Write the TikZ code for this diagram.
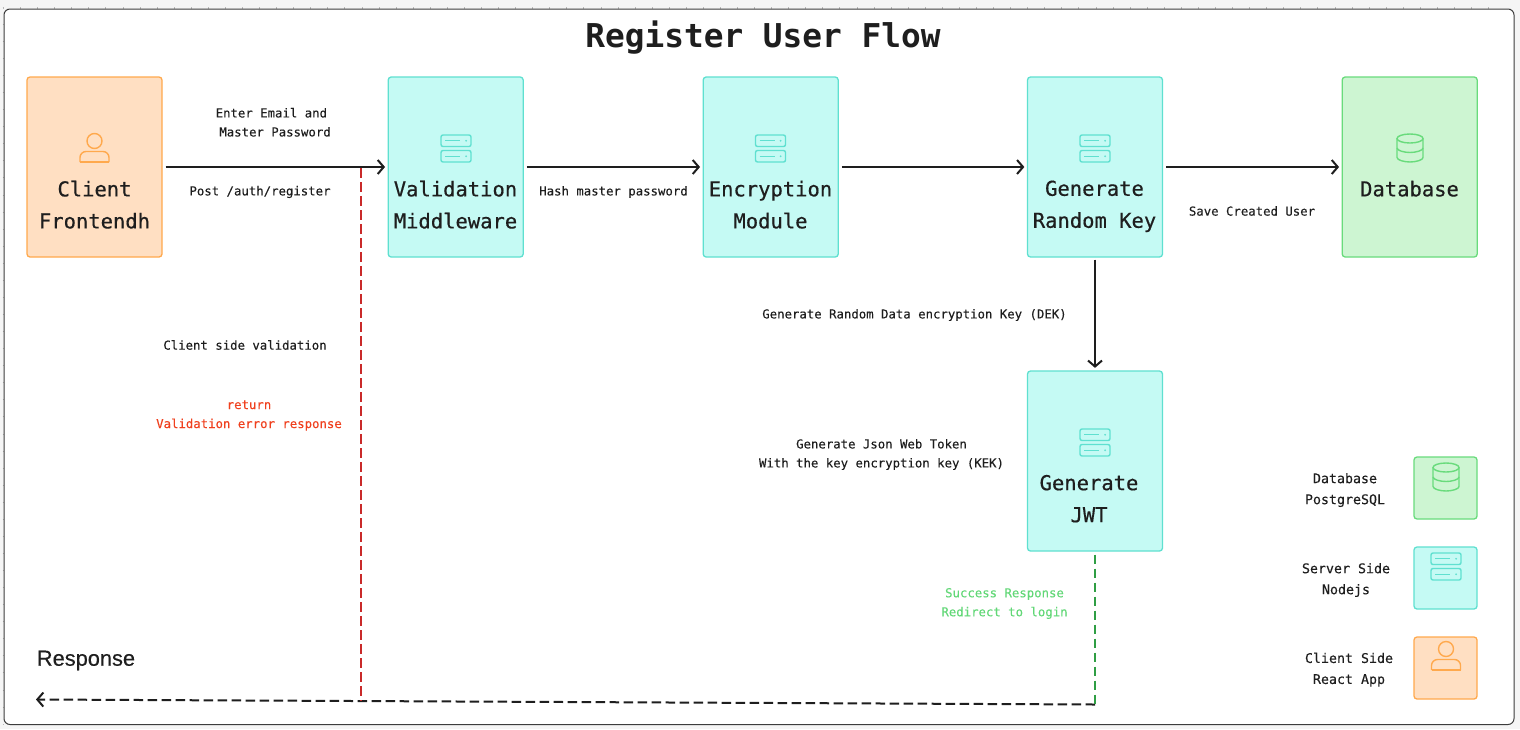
\documentclass[tikz,border=0pt]{standalone}
\usepackage{fontspec}
\setmainfont{DejaVu Sans Mono}
\newfontfamily\boxfont[FakeBold=0.5]{DejaVu Sans Mono}
\newfontfamily\smallfont[FakeBold=0.15]{DejaVu Sans Mono}
\newfontfamily\respfont[FakeBold=0.2]{Liberation Sans}
\usetikzlibrary{arrows.meta}
\definecolor{canvas}{HTML}{F5F5F5}
\definecolor{frameln}{HTML}{3C3C3C}
\definecolor{ink}{HTML}{1E1E1E}
\definecolor{orangeln}{HTML}{FFA94D}
\definecolor{orangebg}{HTML}{FFDFC2}
\definecolor{tealln}{HTML}{5FE0D0}
\definecolor{tealbg}{HTML}{C5FAF4}
\definecolor{greenln}{HTML}{69DB7C}
\definecolor{greenbg}{HTML}{CDF5D2}
\definecolor{reddash}{HTML}{C92A2A}
\definecolor{greendash}{HTML}{2F9E44}
\definecolor{redtxt}{HTML}{F0401E}
\definecolor{greentxt}{HTML}{62D877}
\tikzset{
  flowbox/.style={draw,line width=1.3pt,rounded corners=3pt,minimum width=135pt,minimum height=180pt,inner sep=0pt},
  legendbox/.style={draw,line width=1.3pt,rounded corners=3pt,minimum width=63pt,minimum height=62pt,inner sep=0pt},
  clientbox/.style={draw=orangeln,fill=orangebg},
  serverbox/.style={draw=tealln,fill=tealbg},
  dbbox/.style={draw=greenln,fill=greenbg},
  boxtext/.style={font=\boxfont\fontsize{20.5}{32}\selectfont,text=ink,align=center,inner sep=0pt},
  smalltext/.style={font=\smallfont\fontsize{12.33}{19}\selectfont,text=ink,align=center,inner sep=0pt},
  legendtext/.style={font=\smallfont\fontsize{13.3}{21}\selectfont,text=ink,align=center,inner sep=0pt},
  flow/.style={draw=ink,line width=2pt,-{Straight Barb[length=6pt,width=14pt,line width=2pt]},shorten <=3pt,shorten >=2.5pt},
  dashline/.style={line width=2pt,dash pattern=on 9.5pt off 4.5pt},
  server icon/.pic={
    \begin{scope}[draw=tealln,line width=1.4pt]
      \draw[rounded corners=2pt] (-15,0) rectangle (15,11.5);
      \draw[rounded corners=2pt] (-15,15.5) rectangle (15,27);
      \draw (-11,5.75) -- (4,5.75) (-11,21.25) -- (4,21.25);
      \fill[tealln] (10,5.75) circle (1pt) (10,21.25) circle (1pt);
    \end{scope}
  },
  db icon/.pic={
    \begin{scope}[draw=greenln,line width=1.4pt]
      \draw (0,4.5) circle [x radius=13pt,y radius=4.5pt];
      \draw (-13,4.5) -- (-13,23.5) .. controls (-13,26) and (-6,28) .. (0,28) .. controls (6,28) and (13,26) .. (13,23.5) -- (13,4.5);
      \draw (-13,14) .. controls (-13,16.5) and (-6,18.5) .. (0,18.5) .. controls (6,18.5) and (13,16.5) .. (13,14);
    \end{scope}
  },
  user icon/.pic={
    \begin{scope}[draw=orangeln,line width=1.4pt]
      \draw (0,7.5) circle (7.5pt);
      \draw[rounded corners=6pt] (-14.5,28.5) -- (-14.5,18) -- (14.5,18) -- (14.5,28.5);
      \draw (-14.5,28.5) -- (14.5,28.5);
    \end{scope}
  }
}
\begin{document}
\begin{tikzpicture}[x=1pt,y=-1pt]
\useasboundingbox (0,0) rectangle (1520,729);
\fill[canvas] (0,0) rectangle (1520,729);
% canvas ruler ticks
\foreach \i in {0,...,87} \draw[gray!55,line width=.5pt] ({3.3+\i*17.07},7) -- ({3.3+\i*17.07},8.5);
\foreach \i in {0,...,42} \draw[gray!55,line width=.5pt] (2.5,{7+\i*17.07}) -- (4,{7+\i*17.07});
\draw[frameln,fill=white,line width=1pt,rounded corners=6pt] (4,9) rectangle (1514,724.5);

\node[inner sep=0pt,font=\fontsize{32.8}{36}\selectfont\bfseries,text=ink] (title) at (763,37.5) {Register User Flow};

% boxes
\node[flowbox,clientbox] (client) at (94.5,167) {};
\node[flowbox,serverbox] (valid) at (455.7,167) {};
\node[flowbox,serverbox] (encr) at (770.7,167) {};
\node[flowbox,serverbox] (rand) at (1095,167) {};
\node[flowbox,dbbox] (db) at (1409.7,167) {};
\node[flowbox,serverbox] (jwt) at (1095,461) {};

\pic at (94.5,133.5) {user icon};
\pic at (456,135) {server icon};
\pic at (770.5,135) {server icon};
\pic at (1095,135) {server icon};
\pic at (1410,134) {db icon};
\pic at (1095,429) {server icon};

\node[boxtext] (clientt) at (94.5,204.7) {Client\\Frontendh};
\node[boxtext] (validt) at (455.5,204.7) {Validation\\Middleware};
\node[boxtext] (encrt) at (770.5,204.7) {Encryption\\Module};
\node[boxtext] (randt) at (1094.5,206.3) {Generate\\Random Key};
\node[boxtext] (dbt) at (1409.5,188.7) {Database};
\node[boxtext] (jwtt) at (1089,498.7) {Generate\\JWT};

% legend
\node[legendbox,dbbox] (ldb) at (1445.5,488) {};
\node[legendbox,serverbox] (lsrv) at (1445.5,578) {};
\node[legendbox,clientbox] (lcli) at (1445.5,668) {};
\pic at (1446,463) {db icon};
\pic at (1446,553) {server icon};
\pic at (1446,641.5) {user icon};
\node[legendtext] (ldbt) at (1345,490) {Database\\PostgreSQL};
\node[legendtext] (lsrvt) at (1346,580) {Server Side\\Nodejs};
\node[legendtext] (lclit) at (1349,669.7) {Client Side\\React App};

% connectors
\draw[flow] (client.east) -- (valid.west);
\draw[flow] (valid.east) -- (encr.west);
\draw[flow] (encr.east) -- (rand.west);
\draw[flow] (rand.east) -- (db.west);
\draw[flow,shorten <=2pt] (rand.south) -- (jwt.north);

\coordinate (redtop) at (361,168);
\coordinate (redbot) at (361,701);
\coordinate (greenbot) at (1095,704.5);
\coordinate (respend) at (36,699.5);
\draw[dashline,ink,-{Straight Barb[length=6pt,width=14pt,line width=2pt]}] (greenbot) -- (respend);
\draw[dashline,reddash] (redtop) -- (redbot);
\draw[dashline,greendash,shorten <=3pt] (jwt.south) -- (greenbot);

% labels
\node[smalltext,align=left] (l1) at (273.2,122.3) {Enter Email and\\\hspace*{3.7pt}Master Password};
\node[smalltext] (l2) at (260,192) {Post /auth/register};
\node[smalltext] (l3) at (613.5,192) {Hash master password};
\node[smalltext] (l4) at (1252,211) {Save Created User};
\node[smalltext] (l5) at (914.5,315) {Generate Random Data encryption Key (DEK)};
\node[smalltext] (l6) at (245,345) {Client side validation};
\node[smalltext,text=redtxt] (l7) at (249,415.5) {return\\Validation error response};
\node[smalltext] (l8) at (881.5,454.5) {Generate Json Web Token\\With the key encryption key (KEK)};
\node[smalltext,text=greentxt] (l9) at (1004.5,603.5) {Success Response\\Redirect to login};
\node[inner sep=0pt,font=\respfont\fontsize{21.8}{26}\selectfont,text=ink] (resp) at (86,660.5) {Response};
\end{tikzpicture}
\end{document}
